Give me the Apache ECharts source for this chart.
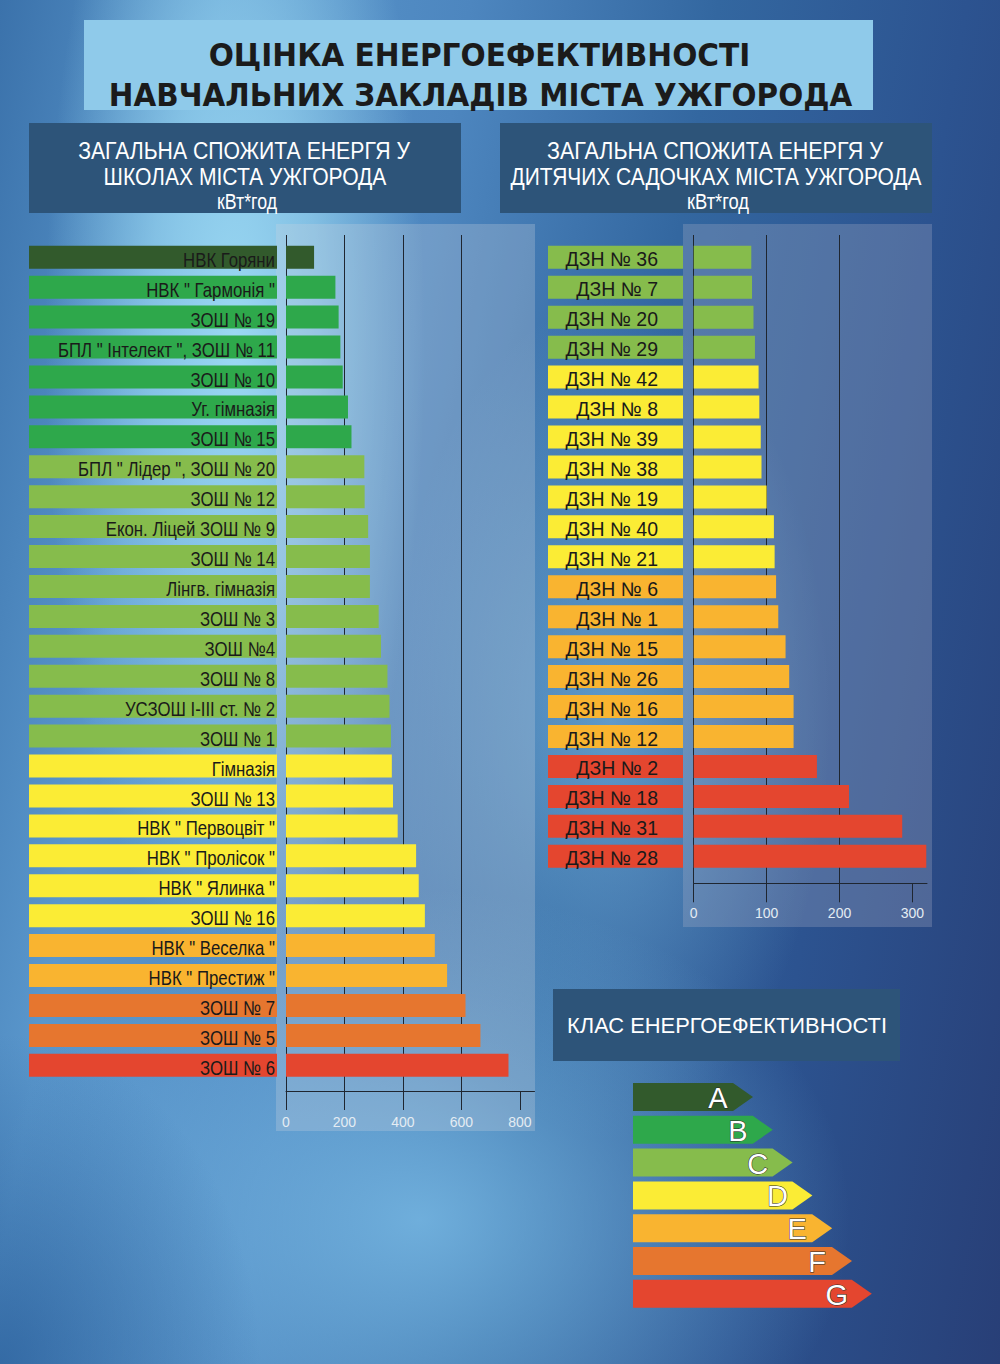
<!DOCTYPE html>
<html><head><meta charset="utf-8">
<script src="https://cdn.jsdelivr.net/npm/echarts@6/dist/echarts.min.js"></script>
<style>
html,body{margin:0;padding:0;width:1000px;height:1364px;overflow:hidden;}
#bg{position:absolute;left:0;top:0;width:1000px;height:1364px;
background:
 radial-gradient(ellipse 260px 330px at 0px 1364px, rgba(40,92,152,0.75), rgba(40,92,152,0) 100%),
 radial-gradient(ellipse 190px 640px at 235px 340px, rgba(155,217,243,1) 0%, rgba(155,217,243,0.65) 45%, rgba(155,217,243,0) 100%),
 radial-gradient(ellipse 430px 330px at 420px 1220px, rgba(120,185,228,0.85), rgba(120,185,228,0) 100%),
 radial-gradient(ellipse 220px 420px at 610px 720px, rgba(125,188,228,0.6), rgba(125,188,228,0) 100%),
 linear-gradient(100deg, #3b72ab 0%, #5a97cc 18%, #4d86bf 38%, #3367a0 58%, #2c5390 78%, #283f77 100%);}
#chart{position:absolute;left:0;top:0;width:1000px;height:1364px;}
</style></head><body>
<div id="bg"></div><div id="chart"></div>
<script>
// ---------- DATA ----------
const schoolNames = ['НВК Горяни', 'НВК " Гармонія "', 'ЗОШ № 19', 'БПЛ " Інтелект ", ЗОШ № 11', 'ЗОШ № 10',
  'Уг. гімназія', 'ЗОШ № 15', 'БПЛ " Лідер ", ЗОШ № 20', 'ЗОШ № 12', 'Екон. Ліцей ЗОШ № 9', 'ЗОШ № 14',
  'Лінгв. гімназія', 'ЗОШ № 3', 'ЗОШ №4', 'ЗОШ № 8', 'УСЗОШ І-ІІІ ст. № 2', 'ЗОШ № 1', 'Гімназія', 'ЗОШ № 13',
  'НВК " Первоцвіт "', 'НВК " Пролісок "', 'НВК " Ялинка "', 'ЗОШ № 16', 'НВК " Веселка "', 'НВК " Престиж "',
  'ЗОШ № 7', 'ЗОШ № 5', 'ЗОШ № 6'];
const schoolValues = [96, 169, 180, 186, 194, 212, 224, 268, 269, 281, 287, 287, 317, 325, 347, 354, 359,
  362, 366, 382, 445, 454, 475, 509, 551, 614, 665, 761];
const schoolClasses = ['A','B','B','B','B','B','B','C','C','C','C','C','C','C','C','C','C',
  'D','D','D','D','D','D','E','E','F','F','G'];

const kgNames = ['ДЗН № 36','ДЗН № 7','ДЗН № 20','ДЗН № 29','ДЗН № 42','ДЗН № 8','ДЗН № 39','ДЗН № 38',
  'ДЗН № 19','ДЗН № 40','ДЗН № 21','ДЗН № 6','ДЗН № 1','ДЗН № 15','ДЗН № 26','ДЗН № 16','ДЗН № 12',
  'ДЗН № 2','ДЗН № 18','ДЗН № 31','ДЗН № 28'];
const kgValues = [79, 80, 82, 84, 89, 90, 92, 93, 100, 110, 111, 113, 116, 126, 131, 137, 137, 169, 213, 286, 319];
const kgClasses = ['C','C','C','C','D','D','D','D','D','D','D','E','E','E','E','E','E','G','G','G','G'];

const schoolTicks = [0, 200, 400, 600, 800];
const kgTicks = [0, 100, 200, 300];
const schoolAxisMax = 850;
const kgAxisMax = 320;

const classNames = ['A','B','C','D','E','F','G'];
const classColors = {A:'#325a2c', B:'#2ea84b', C:'#86bc4c', D:'#fbec35', E:'#f9b430', F:'#e6762f', G:'#e4462f'};

const titleLines = ['ОЦІНКА ЕНЕРГОЕФЕКТИВНОСТІ', 'НАВЧАЛЬНИХ ЗАКЛАДІВ МІСТА УЖГОРОДА'];
const schoolHeader = ['ЗАГАЛЬНА СПОЖИТА ЕНЕРГЯ У', 'ШКОЛАХ МІСТА УЖГОРОДА', 'кВт*год'];
const kgHeader = ['ЗАГАЛЬНА СПОЖИТА ЕНЕРГЯ У', 'ДИТЯЧИХ САДОЧКАХ МІСТА УЖГОРОДА', 'кВт*год'];
const legendTitle = 'КЛАС ЕНЕРГОЕФЕКТИВНОСТІ';

// ---------- STYLE ----------
const SANS = '"Liberation Sans", Arial, sans-serif';
const BOLDF = '"DejaVu Sans", Verdana, sans-serif';
const DARK = '#1f2630';
const AXIS_TXT = '#e4ecf3';

const measureCtx = document.createElement('canvas').getContext('2d');
function fitText(text, cx, cy, font, targetW, fill, extraStyle) {
  measureCtx.font = font;
  const w = measureCtx.measureText(text).width || targetW;
  return {type: 'text', silent: true, z: 5, x: cx, y: cy, scaleX: targetW / w,
    style: Object.assign({text: text, x: 0, y: 0, font: font, fill: fill, align: 'center', verticalAlign: 'middle',
      textAlign: 'center', textVerticalAlign: 'middle'}, extraStyle || {})};
}

const graphics = [];
// title
graphics.push({type:'rect', z:-2, silent:true, shape:{x:84, y:20, width:789, height:90}, style:{fill:'#8fcaea'}});
graphics.push(fitText(titleLines[0], 479.5, 55, 'bold 32.5px ' + BOLDF, 542, '#1b1b1b'));
graphics.push(fitText(titleLines[1], 480.5, 94.5, 'bold 32.5px ' + BOLDF, 744, '#1b1b1b'));
// sub headers
[[29, schoolHeader, [332, 283, 60]], [500, kgHeader, [336, 411, 62]]].forEach(([x0, lines, widths]) => {
  graphics.push({type:'rect', z:-2, silent:true, shape:{x:x0, y:123, width:432, height:90}, style:{fill:'#2d5479'}});
  graphics.push(fitText(lines[0], x0 + 215, 150.5, '24.5px ' + SANS, widths[0], '#ffffff'));
  graphics.push(fitText(lines[1], x0 + 216, 176, '24.5px ' + SANS, widths[1], '#ffffff'));
  graphics.push(fitText(lines[2], x0 + 218, 201, '22px ' + SANS, widths[2], '#ffffff'));
});
// chart panels
graphics.push({type:'rect', z:-3, silent:true, shape:{x:276, y:224, width:259, height:907}, style:{fill:'rgba(205,212,222,0.28)'}});
graphics.push({type:'rect', z:-3, silent:true, shape:{x:683, y:224, width:249, height:703}, style:{fill:'rgba(175,178,200,0.28)'}});
// legend
graphics.push({type:'rect', z:-2, silent:true, shape:{x:553, y:989, width:347, height:72}, style:{fill:'#2d5479'}});
graphics.push(fitText(legendTitle, 727, 1025, '22px ' + SANS, 320, '#ffffff'));
classNames.forEach((c, i) => {
  const top = 1083 + i * 32.8, h = 28, x0 = 633, tip = 753 + i * 19.8, body = tip - 20;
  graphics.push({type:'polygon', z:1, silent:true,
    shape:{points:[[x0, top], [body, top], [tip, top + h / 2], [body, top + h], [x0, top + h]]},
    style:{fill: classColors[c]}});
  graphics.push({type:'text', z:5, silent:true, x: tip - 35, y: top + h / 2 + 1,
    style:{text:c, x:0, y:0, font:'29px ' + SANS, fill:'#ffffff', stroke:'#2a2a2a', lineWidth:1,
      align:'center', verticalAlign:'middle', textAlign:'center', textVerticalAlign:'middle'}});
});

function gridAxis(gridIndex, max, interval, ticks, margin) {
  return {gridIndex: gridIndex, type: 'value', min: 0, max: max, interval: interval,
    axisLine: {show: true, lineStyle: {color: DARK, width: 1}},
    axisTick: {show: true, length: 19, customValues: ticks, lineStyle: {color: DARK, width: 1}},
    axisLabel: {show: true, customValues: ticks, margin: margin, color: AXIS_TXT, fontFamily: SANS, fontSize: 14,
      formatter: v => ticks.indexOf(v) >= 0 ? String(v) : ''},
    splitLine: {show: true, showMaxLine: false, lineStyle: {color: DARK, width: 1}}};
}
function hiddenX(gridIndex, max) {
  return {gridIndex: gridIndex, type: 'value', min: 0, max: max, show: false, splitLine: {show: false}};
}

// kindergarten category labels as coloured boxes (axis labels)
const kgRich = {};
classNames.forEach(c => {
  kgRich[c] = {backgroundColor: classColors[c], width: 110, height: 19, padding: [4, 25, 0, 0],
    align: 'right', fontFamily: SANS, fontSize: 19.5, color: '#1a1a1a', lineHeight: 19};
});

const option = {
  animation: false,
  backgroundColor: 'transparent',
  graphic: {elements: graphics},
  grid: [
    {left: 286, right: 465.5, top: 235, bottom: 273},
    {left: 286, right: 465.5, top: 242.3, bottom: 283.7},
    {left: 693.7, right: 73, top: 235, bottom: 480.7},
    {left: 693.7, right: 73, top: 242.3, bottom: 492.7}
  ],
  xAxis: [
    gridAxis(0, schoolAxisMax, 200, schoolTicks, 24),
    hiddenX(1, schoolAxisMax),
    gridAxis(2, kgAxisMax, 100, kgTicks, 23),
    hiddenX(3, kgAxisMax)
  ],
  yAxis: [
    {gridIndex: 0, type: 'value', show: false, min: 0, max: 1, splitLine: {show: false}},
    {gridIndex: 1, type: 'category', inverse: true, data: schoolNames,
      axisLine: {show: false}, axisTick: {show: false}, axisLabel: {show: false}, splitLine: {show: false}},
    {gridIndex: 2, type: 'value', show: false, min: 0, max: 1, splitLine: {show: false}},
    {gridIndex: 3, type: 'category', inverse: true, data: kgNames,
      axisLine: {show: false}, axisTick: {show: false}, splitLine: {show: false},
      axisLabel: {show: true, interval: 0, margin: 10.7,
        formatter: (val, idx) => '{' + kgClasses[idx] + '|' + val + '}', rich: kgRich}}
  ],
  series: [
    // school name boxes (category labels, drawn on the category scale)
    {type: 'custom', xAxisIndex: 1, yAxisIndex: 1, silent: true, clip: false, z: 3,
      data: schoolNames.map(n => [0, n]),
      encode: {x: 0, y: 1},
      renderItem: function (params, api) {
        const i = params.dataIndex;
        const p = api.coord([0, api.value(1)]);
        const boxRight = p[0] - 9, boxW = 248, h = 23;
        return {type: 'group', children: [
          {type: 'rect', shape: {x: boxRight - boxW, y: p[1] - h / 2, width: boxW, height: h},
            style: {fill: classColors[schoolClasses[i]]}},
          {type: 'text', x: boxRight - 2, y: p[1] + 2.5, scaleX: 0.84,
            style: {text: schoolNames[i], x: 0, y: 0, font: '20px ' + SANS, fill: '#1a1a1a',
              align: 'right', verticalAlign: 'middle', textAlign: 'right', textVerticalAlign: 'middle'}}
        ]};
      }},
    {type: 'bar', xAxisIndex: 1, yAxisIndex: 1, barWidth: 23, silent: true,
      data: schoolValues.map((v, i) => ({value: v, itemStyle: {color: classColors[schoolClasses[i]]}}))},
    {type: 'bar', xAxisIndex: 3, yAxisIndex: 3, barWidth: 23, silent: true,
      data: kgValues.map((v, i) => ({value: v, itemStyle: {color: classColors[kgClasses[i]]}}))}
  ]
};
const chart = echarts.init(document.getElementById('chart'), null, {renderer: 'svg', width: 1000, height: 1364});
chart.setOption(option);
</script>
</body></html>
